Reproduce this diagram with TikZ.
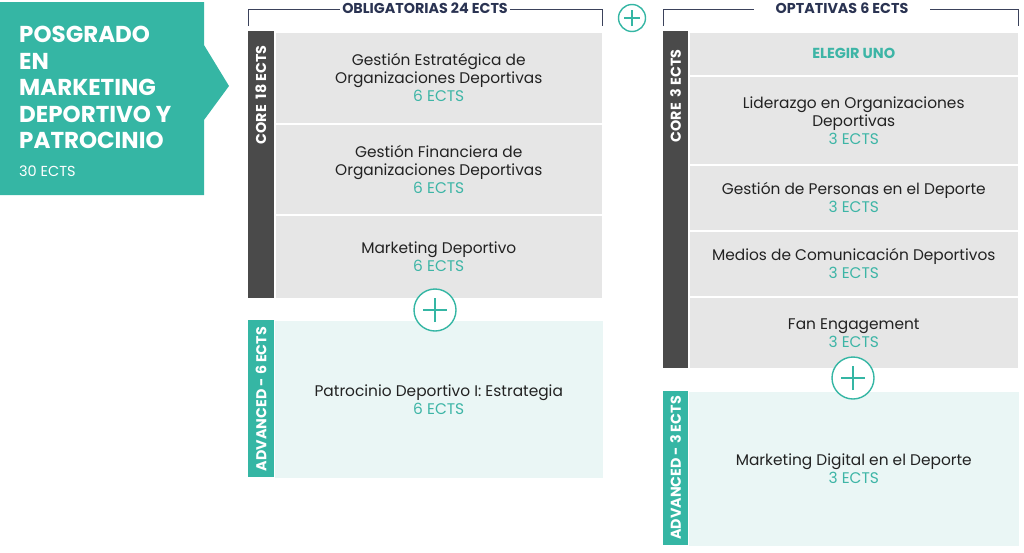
\documentclass[tikz,border=0pt]{standalone}
\usepackage{fontspec}
\setmainfont{Poppins}
\definecolor{tealA}{HTML}{35B6A4}
\definecolor{tealL}{HTML}{EAF6F5}
\definecolor{cellgray}{HTML}{E6E6E6}
\definecolor{stripdark}{HTML}{4A4A4A}
\definecolor{textdark}{HTML}{222222}
\definecolor{navy}{HTML}{2A3352}
\definecolor{ectsteal}{HTML}{3DB5A6}
\newcommand\ectsx[1]{{\color{ectsteal}#1}}
\tikzset{
  cell/.style={fill=cellgray, draw=white, line width=1.5pt, inner sep=0pt, anchor=north west,
    align=center, text=textdark, font=\fontsize{15.4}{18}\selectfont},
  advcell/.style={cell, fill=tealL, draw=none},
  strip/.style={inner sep=0pt, anchor=north west, minimum width=26pt},
  striplabel/.style={rotate=90, text=white, font=\bfseries\fontsize{14.3}{16}\selectfont, inner sep=0pt},
  header/.style={fill=white, text=navy, font=\bfseries\fontsize{14.3}{16}\selectfont, inner ysep=1pt},
  bracket/.style={draw=navy!80!gray, line width=0.8pt},
  pluscirc/.style={circle, draw=tealA, fill=white, line width=1.4pt, inner sep=0pt},
  plusline/.style={draw=tealA, line width=1.4pt},
}
\begin{document}
\begin{tikzpicture}[x=1pt,y=-1pt]
\useasboundingbox (0,0) rectangle (1024,552);
% title arrow box
\fill[tealA] (0,2) -- (204,2) -- (204,45) -- (229,86) -- (204,120) -- (204,195) -- (0,195) -- cycle;
\node[anchor=north west, inner sep=0pt, text=white, align=left,
  font=\bfseries\fontsize{23}{26.5}\selectfont] (title) at (19,26)
  {POSGRADO\\EN\\MARKETING\\DEPORTIVO Y\\PATROCINIO};
\node[anchor=north west, inner sep=0pt, text=white, font=\fontsize{14.5}{16}\selectfont] (titlects) at (19,166) {30 ECTS};

% ---------- left column ----------
\draw[bracket] (248,26) -- (248,9) -- (602,9) -- (602,26);
\node[header, inner xsep=2pt] (hobl) at (425,8) {OBLIGATORIAS 24 ECTS};

\node[strip, fill=stripdark, minimum height=267pt] (lcorestrip) at (248,31) {};
\node[striplabel] (lcorelab) at (261,95) {CORE\ \ 18 ECTS};
\node[cell, minimum width=328pt, minimum height=92pt] (l1) at (274,31)
  {Gestión Estratégica de\\Organizaciones Deportivas\\\ectsx{6 ECTS}};
\node[cell, minimum width=328pt, minimum height=91pt] (l2) at (274,123)
  {Gestión Financiera de\\Organizaciones Deportivas\\\ectsx{6 ECTS}};
\node[cell, minimum width=328pt, minimum height=84pt] (l3) at (274,214)
  {Marketing Deportivo\\\ectsx{6 ECTS}};

\node[strip, fill=tealA, minimum height=157pt] (ladvstrip) at (248,320) {};
\node[striplabel] (ladvlab) at (261,399) {ADVANCED - 6 ECTS};
\node[advcell, minimum width=328pt, minimum height=157pt] (l4) at (274,320)
  {Patrocinio Deportivo I: Estrategia\\\ectsx{6 ECTS}};

\node[pluscirc, minimum size=42pt] (p1) at (435,310) {};
\draw[plusline] ([xshift=-12pt]p1.center) -- ([xshift=12pt]p1.center);
\draw[plusline] ([yshift=-12pt]p1.center) -- ([yshift=12pt]p1.center);

% top plus
\node[pluscirc, minimum size=27pt] (p0) at (632,18) {};
\draw[plusline] ([xshift=-8pt]p0.center) -- ([xshift=8pt]p0.center);
\draw[plusline] ([yshift=-8pt]p0.center) -- ([yshift=8pt]p0.center);

% ---------- right column ----------
\draw[bracket] (663,26) -- (663,9) -- (1018,9) -- (1018,26);
\node[header, inner xsep=22pt] (hopt) at (842,8) {OPTATIVAS 6 ECTS};

\node[strip, fill=stripdark, minimum height=337pt, minimum width=25pt] (rcorestrip) at (663,31) {};
\node[striplabel] (rcorelab) at (675.5,96) {CORE\ \ 3 ECTS};
\node[cell, minimum width=330pt, minimum height=44pt, text=ectsteal,
  font=\bfseries\fontsize{14.5}{16}\selectfont] (r0) at (688,31) {ELEGIR UNO};
\node[cell, minimum width=330pt, minimum height=89pt] (r1) at (688,75)
  {Liderazgo en Organizaciones\\Deportivas\\\ectsx{3 ECTS}};
\node[cell, minimum width=330pt, minimum height=66pt] (r2) at (688,164)
  {Gestión de Personas en el Deporte\\\ectsx{3 ECTS}};
\node[cell, minimum width=330pt, minimum height=66pt] (r3) at (688,230)
  {Medios de Comunicación Deportivos\\\ectsx{3 ECTS}};
\node[cell, minimum width=330pt, minimum height=72pt] (r4) at (688,296)
  {Fan Engagement\\\ectsx{3 ECTS}};

\node[strip, fill=tealA, minimum height=154pt, minimum width=25pt] (radvstrip) at (663,391) {};
\node[striplabel] (radvlab) at (675.5,468) {ADVANCED - 3 ECTS};
\node[advcell, minimum width=330pt, minimum height=154pt] (r5) at (688,391)
  {Marketing Digital en el Deporte\\\ectsx{3 ECTS}};

\node[pluscirc, minimum size=42pt] (p2) at (853,378) {};
\draw[plusline] ([xshift=-12pt]p2.center) -- ([xshift=12pt]p2.center);
\draw[plusline] ([yshift=-12pt]p2.center) -- ([yshift=12pt]p2.center);
\end{tikzpicture}
\end{document}
